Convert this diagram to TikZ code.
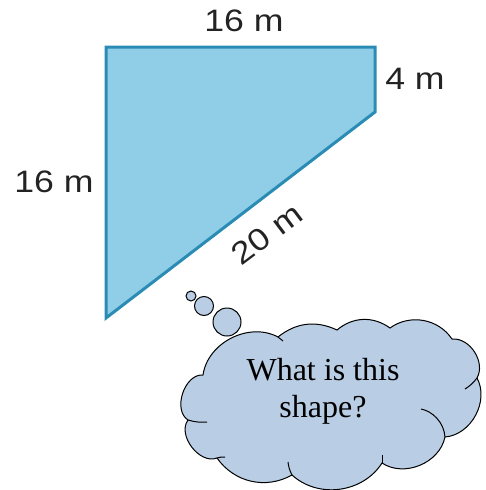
\documentclass[tikz,border=0pt]{standalone}
\usepackage{fontspec}
\setmainfont{Liberation Sans}
\newfontfamily\labfont[FakeStretch=1.15]{Liberation Sans}
\newfontfamily\cloudfont{Liberation Serif}
\definecolor{shapefill}{RGB}{143,206,230}
\definecolor{shapeedge}{RGB}{42,140,180}
\definecolor{cloudfill}{RGB}{185,205,228}
\definecolor{labcol}{RGB}{35,35,35}
\begin{document}
\begin{tikzpicture}[x=1pt,y=-1pt,
  lab/.style={font=\labfont\fontsize{31}{36}\selectfont, text=labcol, inner sep=0pt},
  cloudtext/.style={font=\cloudfont\fontsize{32}{37}\selectfont, align=center, inner sep=0pt},
  shapeline/.style={draw=shapeedge, line width=3pt, fill=shapefill, line join=miter},
  cloudline/.style={draw=black, line width=1pt},
  bubble/.style={circle, draw=black, line width=1pt, fill=cloudfill, inner sep=0pt}]
\useasboundingbox (0,0) rectangle (485,490);
% the shape
\coordinate (A) at (106,47);
\coordinate (B) at (375,47);
\coordinate (C) at (375,112);
\coordinate (D) at (106,318);
\draw[shapeline] (A) -- (B) -- (C) -- (D) -- cycle;
% labels
\node[lab] (ltop) at (244,21) {16 m};
\node[lab] (lright) at (415,79) {4 m};
\node[lab] (lleft) at (54,182) {16 m};
\node[lab, rotate=37] (ldiag) at (267,234) {20 m};
% thought bubbles
\node[bubble, minimum size=10pt] (b1) at (191,296) {};
\node[bubble, minimum size=19pt] (b2) at (204,306) {};
\node[bubble, minimum size=28pt] (b3) at (227,322) {};
% cloud
\coordinate (j1) at (203,375);
\coordinate (j2) at (278,337);
\coordinate (j3) at (337,330);
\coordinate (j4) at (390,328);
\coordinate (j5) at (452,339);
\coordinate (j6) at (477,378);
\coordinate (j7) at (445,437);
\coordinate (j8) at (382,463);
\coordinate (j9) at (292,475);
\coordinate (j10) at (217,458);
\coordinate (j11) at (188,420);
\draw[cloudline, fill=cloudfill] (j1) to[bend left=55] (j2) to[bend left=32] (j3)
  to[bend left=38] (j4) to[bend left=46] (j5) to[bend left=62] (j6)
  to[bend left=57] (j7) to[bend left=56] (j8) to[bend left=50] (j9)
  to[bend left=42] (j10) to[bend left=74] (j11) to[bend left=76] (j1) -- cycle;
% inner arcs
\draw[cloudline] (j11) to[bend right=10] (207,422);
\draw[cloudline] (j10) to[bend left=10] (225,457);
\draw[cloudline] (j9) to[bend left=10] (288,462);
\draw[cloudline] (j8) -- (382,455);
\draw[cloudline] (j7) .. controls (444,422) and (432,411) .. (421,409);
\draw[cloudline] (j6) to[bend left=10] (465,389);
\draw[cloudline] (j2) -- (283,341);
\node[cloudtext] (q) at (323,391) {What is this\\shape?};
\end{tikzpicture}
\end{document}
